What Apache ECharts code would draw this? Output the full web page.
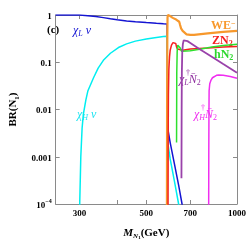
<!DOCTYPE html>
<html><head><meta charset="utf-8">
<script src="https://cdn.jsdelivr.net/npm/echarts@6/dist/echarts.min.js"></script>
<style>html,body{margin:0;padding:0;background:#fff}#c{width:249px;height:245px}</style>
</head><body><div id="c"></div>
<script>
// x tick marks and labelled ticks (GeV)
const xTicks = [300, 400, 500, 700, 1000];
const xTickLabels = [300, 500, 700, 1000];
const xMin = 250, xMax = 1000;
const yMin = 1e-4, yMax = 1;

// chi_L nu (blue)
const mBlue = [250, 280, 295, 300, 320, 340, 360, 380, 400, 430, 460, 500, 540, 570, 586, 587, 589, 600, 620, 640, 657, 665];
const vBlue = [1.0, 1.0, 1.0, 0.995, 0.965, 0.93, 0.88, 0.83, 0.79, 0.75, 0.72, 0.69, 0.665, 0.65, 0.645, 0.1, 0.004, 0.002, 0.0007, 0.00025, 0.0001, 0.00004];
// chi_H nu (cyan)
const mCyan = [300, 300.5, 303, 306, 309, 315, 320, 334, 346, 360, 380, 404, 430, 460, 500, 540, 570, 586, 587, 589, 600, 620, 640, 646];
const vCyan = [0.00002, 0.0001, 0.001, 0.004, 0.008, 0.016, 0.025, 0.047, 0.075, 0.11, 0.155, 0.205, 0.245, 0.28, 0.31, 0.335, 0.35, 0.355, 0.05, 0.002, 0.0009, 0.0003, 0.0001, 0.00005];
// W E- (orange)
const mOrange = [585, 586, 587, 588, 590, 600, 612, 620, 628, 636, 643, 647, 652, 660, 668, 680, 700, 720, 800, 900, 1000];
const vOrange = [0.00002, 0.01, 0.3, 0.9, 1.0, 0.95, 0.87, 0.85, 0.8, 0.76, 0.72, 0.62, 0.52, 0.46, 0.42, 0.39, 0.38, 0.38, 0.41, 0.44, 0.46];
// Z N2 (red)
const mRed = [590, 591, 592, 594, 597, 600, 606, 613, 620, 626, 630, 634, 640, 660, 700, 800, 900, 1000];
const vRed = [0.00002, 0.003, 0.02, 0.07, 0.13, 0.18, 0.23, 0.26, 0.265, 0.25, 0.21, 0.19, 0.18, 0.18, 0.19, 0.2, 0.21, 0.215];
// h N2 (green)
const mGreen = [630, 631, 633, 636, 640, 643, 648, 655, 665, 700, 760, 825, 900, 1000];
const vGreen = [0.002, 0.06, 0.17, 0.23, 0.25, 0.25, 0.2, 0.17, 0.165, 0.175, 0.19, 0.21, 0.225, 0.24];
// chi_L^+ N2bar (purple)
const mPurple = [654, 655, 656, 658, 661, 665, 670, 675, 685, 700, 750, 800, 850, 900, 950, 1000];
const vPurple = [0.00035, 0.01, 0.06, 0.16, 0.24, 0.29, 0.305, 0.3, 0.28, 0.256, 0.19, 0.148, 0.116, 0.092, 0.074, 0.06];
// chi_H^+ N2bar (magenta)
const mMag = [805, 806, 807, 808, 812, 820, 829, 840, 855, 870, 900, 950, 1000];
const vMag = [0.00002, 0.001, 0.008, 0.025, 0.035, 0.042, 0.047, 0.051, 0.053, 0.054, 0.053, 0.05, 0.046];

const L = Math.log10;
const pts = (m, v) => m.map((x, i) => [L(x), v[i]]);
const serif = '"Liberation Serif","DejaVu Serif",serif';
const frame = '#8a8a8a';

function mkLine(name, m, v, color, w) {
  return { name, type: 'line', data: pts(m, v), showSymbol: false, clip: true,
    lineStyle: { color, width: w || 1.5 }, animation: false, z: 2 };
}

const yFmt = v => {
  const e = Math.round(L(v));
  if (e === 0) return '{b|1}';
  if (e === -4) return '{b|10}{s|−4}';
  return '{b|' + v.toFixed(-e) + '}';
};
const lblRich = {
  b: { fontFamily: serif, fontWeight: 'bold', fontSize: 9, color: '#000', lineHeight: 12, verticalAlign: 'bottom' },
  s: { fontFamily: serif, fontWeight: 'bold', fontSize: 6, color: '#000', lineHeight: 6, verticalAlign: 'top' }
};

const baseX = {
  type: 'value', min: L(xMin), max: L(xMax),
  axisLine: { show: true, lineStyle: { color: frame, width: 1 } },
  splitLine: { show: false },
  axisTick: { show: true, inside: true, length: 4, lineStyle: { color: frame }, customValues: xTicks.map(L) },
};
const baseY = {
  type: 'log', logBase: 10, min: yMin, max: yMax,
  axisLine: { show: true, lineStyle: { color: frame, width: 1 } },
  splitLine: { show: false },
  minorTick: { show: false },
  axisTick: { show: true, inside: true, length: 4, lineStyle: { color: frame } },
};

function rt(color, big, italic, bold) {
  const st = (italic ? 'italic ' : '') + (bold ? 'bold ' : '');
  return {
    g: { font: st + big + 'px ' + serif, fill: color, lineHeight: 13, verticalAlign: 'middle' },
    sub: { font: st + Math.round(big * 0.65) + 'px ' + serif, fill: color, lineHeight: 7, verticalAlign: 'bottom' },
    s: { font: (bold ? 'bold ' : '') + Math.round(big * 0.65) + 'px ' + serif, fill: color, lineHeight: 7, verticalAlign: 'bottom' },
    sup: { font: (bold ? 'bold ' : '') + Math.round(big * 0.65) + 'px ' + serif, fill: color, lineHeight: 7, verticalAlign: 'top' }
  };
}

const chart = echarts.init(document.getElementById('c'), null, { renderer: 'canvas' });
chart.setOption({
  animation: false,
  backgroundColor: '#fff',
  grid: { left: 43, right: 11, top: 15, bottom: 34, containLabel: false },
  xAxis: [
    Object.assign({}, baseX, {
      position: 'bottom',
      axisLabel: { show: true, customValues: xTickLabels.map(L), margin: 5,
        formatter: v => String(Math.round(Math.pow(10, v))),
        fontFamily: serif, fontWeight: 'bold', fontSize: 9, color: '#000' },
      name: '{mi|M}{sub|N}{ss|1}{b|(GeV)}', nameLocation: 'middle', nameGap: 22,
      nameTextStyle: { rich: {
        mi: { fontFamily: serif, fontStyle: 'italic', fontWeight: 'bold', fontSize: 11, color: '#000', lineHeight: 14, verticalAlign: 'middle' },
        sub: { fontFamily: serif, fontStyle: 'italic', fontWeight: 'bold', fontSize: 7, color: '#000', lineHeight: 8, verticalAlign: 'bottom' },
        ss: { fontFamily: serif, fontWeight: 'bold', fontSize: 5, color: '#000', lineHeight: 5, verticalAlign: 'bottom' },
        b: { fontFamily: serif, fontWeight: 'bold', fontSize: 11, color: '#000', lineHeight: 14, verticalAlign: 'middle' }
      } }
    }),
    Object.assign({}, baseX, { position: 'top', axisLabel: { show: false } })
  ],
  yAxis: [
    Object.assign({}, baseY, {
      position: 'left',
      axisLabel: { show: true, margin: 4, formatter: yFmt, rich: lblRich },
      name: '{b|BR(N}{sub|1}{b|)}', nameLocation: 'middle', nameGap: 30, nameRotate: 90,
      nameTextStyle: { rich: {
        b: { fontFamily: serif, fontWeight: 'bold', fontSize: 11, color: '#000', lineHeight: 14, verticalAlign: 'middle' },
        sub: { fontFamily: serif, fontWeight: 'bold', fontSize: 7, color: '#000', lineHeight: 7, verticalAlign: 'bottom' }
      } }
    }),
    Object.assign({}, baseY, { position: 'right', axisLabel: { show: false } })
  ],
  series: [
    mkLine('χLν', mBlue, vBlue, '#1414d2'),
    mkLine('χHν', mCyan, vCyan, '#00eef0'),
    mkLine('WE-', mOrange, vOrange, '#f7982c', 2.2),
    mkLine('ZN2', mRed, vRed, '#f62020'),
    mkLine('hN2', mGreen, vGreen, '#2ee02e'),
    mkLine('χL+N2', mPurple, vPurple, '#9a42aa', 1.8),
    mkLine('χH+N2', mMag, vMag, '#f02ef0')
  ],
  graphic: [
    { type: 'text', x: 47, y: 30, style: { text: '(c)', font: 'bold 11px ' + serif, fill: '#000', align: 'left', verticalAlign: 'middle' } },
    { type: 'text', x: 73, y: 31, style: { text: '{g|χ}{sub|L}{g| ν}', align: 'left', verticalAlign: 'middle', rich: rt('#1414d2', 12, true, false) } },
    { type: 'text', x: 77, y: 115, style: { text: '{g|χ}{sub|H}{g| ν}', align: 'left', verticalAlign: 'middle', rich: rt('#20e4f0', 12, true, false) } },
    { type: 'text', x: 211, y: 26, style: { text: '{g|WE}{sup|−}', align: 'left', verticalAlign: 'middle', rich: rt('#f7982c', 12, false, true) } },
    { type: 'text', x: 212, y: 41, style: { text: '{g|ZN}{s|2}', align: 'left', verticalAlign: 'middle', rich: rt('#f62020', 12, false, true) } },
    { type: 'text', x: 214, y: 55, style: { text: '{g|hN}{s|2}', align: 'left', verticalAlign: 'middle', rich: rt('#2ed82e', 12, false, true) } },
    { type: 'text', x: 179, y: 80, style: { text: '{g|χ}{sub|L}{g|N̄}{s|2}', align: 'left', verticalAlign: 'middle', rich: rt('#8e2e9e', 12, true, false) } },
    { type: 'text', x: 186, y: 73, style: { text: '†', font: '8px ' + serif, fill: '#8e2e9e', align: 'left', verticalAlign: 'middle' } },
    { type: 'text', x: 194, y: 115, style: { text: '{g|χ}{sub|H}{g|N̄}{s|2}', align: 'left', verticalAlign: 'middle', rich: rt('#f02ef0', 12, true, false) } },
    { type: 'text', x: 201, y: 108, style: { text: '†', font: '8px ' + serif, fill: '#f02ef0', align: 'left', verticalAlign: 'middle' } }
  ]
});
</script>
</body></html>
